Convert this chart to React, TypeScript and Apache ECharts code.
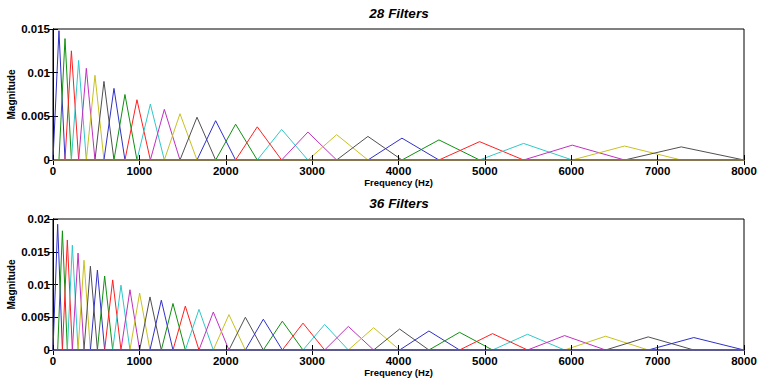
import React, { useEffect, useRef } from "react";
import * as echarts from "echarts";

// Filter centre frequencies (Hz), with the 0 Hz and 8000 Hz edges
const FREQ_28 = [0, 69, 139, 213, 297, 386, 486, 590, 706, 833, 972, 1127, 1289, 1470, 1667, 1883, 2114, 2365, 2647, 2951, 3284, 3646, 4040, 4468, 4939, 5448, 6012, 6617, 7273, 8000];
const PEAK_28 = [0.0148, 0.0139, 0.0125, 0.0114, 0.0105, 0.0097, 0.0090, 0.0082, 0.0075, 0.0069, 0.0064, 0.0058, 0.0053, 0.0049, 0.0045, 0.0041, 0.0038, 0.0035, 0.0032, 0.0029, 0.0027, 0.0025, 0.0023, 0.0021, 0.0019, 0.0017, 0.0016, 0.0015];

const FREQ_36 = [0, 54, 109, 166, 224, 290, 359, 433, 514, 598, 691, 787, 891, 1003, 1123, 1254, 1389, 1532, 1690, 1856, 2037, 2227, 2435, 2655, 2894, 3145, 3419, 3712, 4013, 4352, 4707, 5089, 5494, 5923, 6397, 6891, 7419, 8000];
const PEAK_36 = [0.0192, 0.0182, 0.0168, 0.0160, 0.0148, 0.0137, 0.0128, 0.0122, 0.0113, 0.0107, 0.0099, 0.0092, 0.0087, 0.0081, 0.0076, 0.0071, 0.0067, 0.0062, 0.0058, 0.0054, 0.0050, 0.0047, 0.0044, 0.0041, 0.0039, 0.0036, 0.0034, 0.0032, 0.0029, 0.0027, 0.0025, 0.0024, 0.0022, 0.0021, 0.0020, 0.0019];

const TITLES = ["28 Filters", "36 Filters"];
const Y_MAX = [0.015, 0.02];
const X_MAX = 8000;

const COLORS = ["#3030c8", "#109010", "#ff2020", "#30c8c8", "#c030c0", "#c8c020", "#505050"];
const BASE_COLORS = ["#857650", "#5c5890"];

const FONT = '"Liberation Sans", Arial, sans-serif';

export default function App() {
  const ref = useRef<HTMLDivElement>(null);
  useEffect(() => {
    if (!ref.current) return;
    const chart = echarts.init(ref.current, undefined, { renderer: "svg" });
    const sets = [
      { freq: FREQ_28, peak: PEAK_28 },
      { freq: FREQ_36, peak: PEAK_36 },
    ];
    const tops = [29, 219];
    const grids: any[] = [];
    const xAxes: any[] = [];
    const yAxes: any[] = [];
    const series: any[] = [];
    const graphics: any[] = [];
    const fmtY = (v: number) => String(+v.toFixed(3));
    const fmtX = (v: number) => String(Math.round(v));
    sets.forEach((s, g) => {
      grids.push({
        left: 53,
        right: 15,
        top: tops[g],
        height: 131,
        containLabel: false,
        outerBoundsMode: "none",
        show: true,
        borderColor: "#000",
        borderWidth: 1,
        backgroundColor: "transparent",
      });
      xAxes.push({
        type: "value",
        gridIndex: g,
        min: 0,
        max: X_MAX,
        interval: 1000,
        position: "bottom",
        z: 5,
        axisLine: { show: true, lineStyle: { color: BASE_COLORS[g], width: 2 } },
        axisTick: { show: true, inside: true, length: 5, lineStyle: { color: "#000" } },
        axisLabel: { color: "#000", fontWeight: "bold", fontSize: 11.5, fontFamily: FONT, margin: 5, formatter: fmtX },
        splitLine: { show: false },
        name: "Frequency (Hz)",
        nameLocation: "middle",
        nameGap: 17,
        nameMoveOverlap: false,
        nameTextStyle: { color: "#000", fontWeight: "bold", fontSize: 9.5, fontFamily: FONT },
      });
      xAxes.push({
        type: "value",
        gridIndex: g,
        min: 0,
        max: X_MAX,
        interval: 1000,
        position: "top",
        axisLine: { show: true, lineStyle: { color: "#000", width: 1 } },
        axisTick: { show: true, inside: true, length: 5, lineStyle: { color: "#000" } },
        axisLabel: { show: false },
        splitLine: { show: false },
      });
      yAxes.push({
        type: "value",
        gridIndex: g,
        min: 0,
        max: Y_MAX[g],
        interval: 0.005,
        position: "left",
        axisLine: { show: true, lineStyle: { color: "#000", width: 1 } },
        axisTick: { show: true, inside: true, length: 5, lineStyle: { color: "#000" } },
        axisLabel: { color: "#000", fontWeight: "bold", fontSize: 11.5, fontFamily: FONT, margin: 3, formatter: fmtY },
        splitLine: { show: false },
        name: "Magnitude",
        nameLocation: "middle",
        nameRotate: 90,
        nameGap: 37,
        nameMoveOverlap: false,
        nameTextStyle: { color: "#000", fontWeight: "bold", fontSize: 10, fontFamily: FONT },
      });
      yAxes.push({
        type: "value",
        gridIndex: g,
        min: 0,
        max: Y_MAX[g],
        interval: 0.005,
        position: "right",
        axisLine: { show: true, lineStyle: { color: "#000", width: 1 } },
        axisTick: { show: true, inside: true, length: 5, lineStyle: { color: "#000" } },
        axisLabel: { show: false },
        splitLine: { show: false },
      });
      s.peak.forEach((p, i) => {
        series.push({
          type: "line",
          xAxisIndex: g * 2,
          yAxisIndex: g * 2,
          data: [
            [s.freq[i], 0],
            [s.freq[i + 1], p],
            [s.freq[i + 2], 0],
          ],
          showSymbol: false,
          symbol: "none",
          lineStyle: { color: COLORS[i % COLORS.length], width: 1 },
          silent: true,
        });
      });
      graphics.push({
        type: "text",
        x: 399,
        y: tops[g] - 16,
        style: {
          text: TITLES[g],
          fontSize: 13.5,
          fontWeight: "bold",
          fontStyle: "italic",
          fontFamily: FONT,
          fill: "#000",
          align: "center",
          verticalAlign: "middle",
        },
      });
    });
    chart.setOption({
      animation: false,
      backgroundColor: "#fff",
      grid: grids,
      xAxis: xAxes,
      yAxis: yAxes,
      series,
      graphic: graphics,
    });
    return () => chart.dispose();
  }, []);
  return (
    <div
      ref={ref}
      style={{ position: "fixed", left: 0, top: 0, width: 759, height: 381 }}
    />
  );
}
